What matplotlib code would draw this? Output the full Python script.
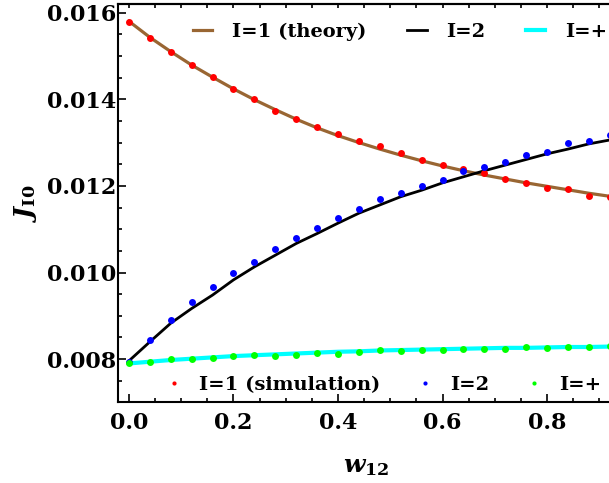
"""
J_I0 vs w12: theory curves and simulation points
"""
import numpy as np
import matplotlib
matplotlib.use("Agg")
import matplotlib.pyplot as plt
from matplotlib.ticker import MultipleLocator, NullFormatter

# data
w12 = [0.00, 0.04, 0.08, 0.12, 0.16, 0.20, 0.24, 0.28, 0.32, 0.36, 0.40, 0.44,
       0.48, 0.52, 0.56, 0.60, 0.64, 0.68, 0.72, 0.76, 0.80, 0.84, 0.88, 0.92]

theory_1 = [0.01580, 0.01543, 0.01510, 0.01479, 0.01451, 0.01424, 0.01399, 0.01376,
            0.01354, 0.01334, 0.01316, 0.01300, 0.01285, 0.01271, 0.01258, 0.01246,
            0.01235, 0.01225, 0.01216, 0.01207, 0.01199, 0.01191, 0.01183, 0.01176]
theory_2 = [0.00796, 0.00840, 0.00883, 0.00917, 0.00948, 0.00983, 0.01013, 0.01040,
            0.01067, 0.01090, 0.01114, 0.01137, 0.01156, 0.01175, 0.01190, 0.01207,
            0.01221, 0.01235, 0.01248, 0.01261, 0.01274, 0.01285, 0.01297, 0.01306]
theory_p = [0.00790, 0.00794, 0.00798, 0.00801, 0.00804, 0.00807, 0.00809, 0.00811,
            0.00813, 0.00815, 0.00817, 0.00818, 0.00820, 0.00821, 0.00822, 0.00823,
            0.00824, 0.00825, 0.00826, 0.00826, 0.00827, 0.00828, 0.00828, 0.00829]

sim_1 = [0.015792, 0.015423, 0.015100, 0.014785, 0.014515, 0.014231, 0.014000, 0.013730,
         0.013538, 0.013360, 0.013206, 0.013030, 0.012915, 0.012753, 0.012598, 0.012476,
         0.012390, 0.012291, 0.012159, 0.012067, 0.011958, 0.011921, 0.011774, 0.011751]
sim_2 = [0.007940, 0.008441, 0.008903, 0.009312, 0.009658, 0.009982, 0.010250, 0.010536,
         0.010804, 0.011028, 0.011252, 0.011473, 0.011704, 0.011843, 0.011991, 0.012136,
         0.012351, 0.012443, 0.012559, 0.012707, 0.012783, 0.012998, 0.013044, 0.013176]
sim_p = [0.007903, 0.007926, 0.008002, 0.008002, 0.008033, 0.008064, 0.008095, 0.008072,
         0.008095, 0.008133, 0.008111, 0.008157, 0.008203, 0.008187, 0.008203, 0.008218,
         0.008241, 0.008241, 0.008226, 0.008272, 0.008264, 0.008272, 0.008272, 0.008303]

plt.rcParams['font.family'] = 'DejaVu Serif'
plt.rcParams['font.weight'] = 'bold'
plt.rcParams['mathtext.fontset'] = 'dejavuserif'

W, H = 609, 483
fig = plt.figure(figsize=(W / 100, H / 100), dpi=100)
# axes box runs a little past the right edge of the picture, like the reference
ax = fig.add_axes([118 / W, (H - 402) / H, 497 / W, 398 / H])

l1, = ax.plot(w12, theory_1, color='#996633', lw=2.3)
l2, = ax.plot(w12, theory_2, color='black', lw=2.0)
l3, = ax.plot(w12, theory_p, color='#00FFFF', lw=3.0)
p1, = ax.plot(w12, sim_1, 'o', color='#FF0000', ms=5.0, mew=0)
p2, = ax.plot(w12, sim_2, 'o', color='#0000FF', ms=5.0, mew=0)
p3, = ax.plot(w12, sim_p, 'o', color='#00FF00', ms=5.0, mew=0)

ax.set_xlim(-0.021, 0.93)
ax.set_ylim(0.00701, 0.0162)
ax.xaxis.set_major_locator(MultipleLocator(0.2))
ax.xaxis.set_minor_locator(MultipleLocator(0.05))
ax.yaxis.set_major_locator(MultipleLocator(0.002))
ax.yaxis.set_minor_locator(MultipleLocator(0.0005))
ax.xaxis.set_major_formatter(plt.FuncFormatter(lambda v, p: f"{v:.1f}"))
ax.yaxis.set_major_formatter(plt.FuncFormatter(lambda v, p: f"{v:.3f}"))
ax.tick_params(which='both', direction='in', top=False, right=False, width=1.2)
ax.tick_params(which='major', length=5.5, labelsize=16)
ax.tick_params(which='minor', length=3)
ax.tick_params(axis='x', pad=7)
ax.tick_params(axis='y', pad=1)
for s in ax.spines.values():
    s.set_linewidth(1.5)

# top frame: short ticks only, no labels
top = ax.secondary_xaxis('top')
top.xaxis.set_major_locator(MultipleLocator(0.05))
top.xaxis.set_major_formatter(NullFormatter())
top.tick_params(direction='in', length=3, width=1.2)
top.spines['top'].set_linewidth(1.5)

ax.set_xlabel(r'$\boldsymbol{w}_{\mathbf{12}}$', fontsize=18, labelpad=15)
ax.set_ylabel(r'$\boldsymbol{J}_{\mathbf{I0}}$', fontsize=18, labelpad=6)

leg1 = ax.legend([l1, l2, l3], ['I=1 (theory)', 'I=2', 'I=+'], ncol=3,
                 loc='center left', bbox_to_anchor=(0.151, 0.930), frameon=False,
                 fontsize=14, handlelength=1.0, handletextpad=1.0, columnspacing=2.1,
                 borderpad=0, borderaxespad=0)
ax.add_artist(leg1)
ax.legend([p1, p2, p3], ['I=1 (simulation)', 'I=2', 'I=+'], ncol=3,
          loc='center left', bbox_to_anchor=(0.0926, 0.043), frameon=False,
          fontsize=14, handlelength=1.0, handletextpad=0.8, columnspacing=1.8,
          borderpad=0, borderaxespad=0, markerscale=0.6)

fig.savefig('out.png', dpi=100)
